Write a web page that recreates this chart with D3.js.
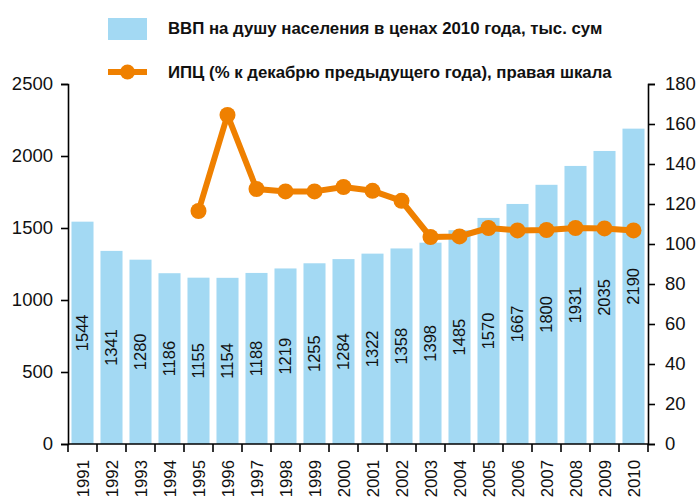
<!DOCTYPE html>
<html>
<head>
<meta charset="utf-8">
<script src="https://cdn.jsdelivr.net/npm/d3@7"></script>
<style>
  html, body { margin: 0; padding: 0; background: #fff; }
  svg { display: block; font-family: "Liberation Sans", Arial, sans-serif; }
</style>
</head>
<body>
<svg id="chart" width="698" height="498"></svg>
<script>
const years = ["1991","1992","1993","1994","1995","1996","1997","1998","1999","2000",
               "2001","2002","2003","2004","2005","2006","2007","2008","2009","2010"];
const gdpPerCapita = [1544,1341,1280,1186,1155,1154,1188,1219,1255,1284,
                      1322,1358,1398,1485,1570,1667,1800,1931,2035,2190];
const cpiYears = ["1995","1996","1997","1998","1999","2000","2001","2002","2003",
                  "2004","2005","2006","2007","2008","2009","2010"];
const cpiValues = [116.5,164.5,127.5,126.3,126.3,128.5,126.6,121.6,103.5,
                   103.8,108.0,106.8,107.0,108.0,107.8,106.8];
const leftTicks = [0,500,1000,1500,2000,2500];
const rightTicks = [0,20,40,60,80,100,120,140,160,180];
const legendLabels = ["ВВП на душу населения в ценах 2010 года, тыс. сум",
                      "ИПЦ (% к декабрю предыдущего года), правая шкала"];

const barColor = "#a3d9f3";
const lineColor = "#ef8000";

const svg = d3.select("#chart");
const plotLeft = 68, plotRight = 648, plotTop = 84, plotBottom = 444;

const x = d3.scaleBand().domain(years).range([plotLeft, plotRight]).paddingInner(0.24).paddingOuter(0.12);
const yL = d3.scaleLinear().domain([0, 2500]).range([plotBottom, plotTop]);
const yR = d3.scaleLinear().domain([0, 180]).range([plotBottom, plotTop]);

// bars
svg.append("g").selectAll("rect").data(years).join("rect")
  .attr("x", d => x(d))
  .attr("width", x.bandwidth())
  .attr("y", (d, i) => yL(gdpPerCapita[i]))
  .attr("height", (d, i) => yL(0) - yL(gdpPerCapita[i]))
  .attr("fill", barColor);

// bar labels
svg.append("g").selectAll("text").data(years).join("text")
  .attr("transform", (d, i) => `translate(${x(d) + x.bandwidth() / 2},${(yL(gdpPerCapita[i]) + yL(0)) / 2}) rotate(-90)`)
  .attr("text-anchor", "middle")
  .attr("dy", "0.36em")
  .attr("font-size", 16.5)
  .attr("fill", "#111")
  .text((d, i) => gdpPerCapita[i]);

// left axis
const axL = svg.append("g").attr("transform", `translate(${plotLeft},0)`)
  .call(d3.axisLeft(yL).tickValues(leftTicks).tickFormat(d3.format("d"))
    .tickSize(7).tickSizeOuter(7).tickPadding(8));
// right axis
const axR = svg.append("g").attr("transform", `translate(${plotRight},0)`)
  .call(d3.axisRight(yR).tickValues(rightTicks).tickFormat(d3.format("d"))
    .tickSize(7).tickSizeOuter(7).tickPadding(10));
// bottom axis with ticks at band boundaries
const axB = svg.append("g").attr("transform", `translate(0,${plotBottom})`);
axB.append("line").attr("x1", plotLeft).attr("x2", plotRight).attr("stroke", "#000").attr("stroke-width", 1.6);
const boundaries = years.map(d => x(d) - x.step() * x.paddingInner() / 2).concat([plotRight]);
axB.selectAll("line.tk").data(boundaries).join("line").attr("class", "tk")
  .attr("x1", d => d).attr("x2", d => d).attr("y1", 0).attr("y2", 8)
  .attr("stroke", "#000").attr("stroke-width", 1.6);
axB.selectAll("text").data(years).join("text")
  .attr("transform", d => `translate(${x(d) + x.bandwidth() / 2},16) rotate(-90)`)
  .attr("text-anchor", "end")
  .attr("dy", "0.36em")
  .attr("font-size", 16.8)
  .attr("fill", "#111")
  .text(d => d);

[axL, axR].forEach(g => {
  g.selectAll("path.domain").attr("stroke", "#000").attr("stroke-width", 1.6);
  g.selectAll(".tick line").attr("stroke", "#000").attr("stroke-width", 1.6);
  g.selectAll(".tick text").attr("font-size", 18.5).attr("fill", "#111")
    .attr("font-family", "Liberation Sans, Arial, sans-serif");
});

// CPI line
const line = d3.line().x(d => x(d[0]) + x.bandwidth() / 2).y(d => yR(d[1]));
const cpiData = cpiYears.map((d, i) => [d, cpiValues[i]]);
svg.append("path").datum(cpiData)
  .attr("d", line).attr("fill", "none").attr("stroke", lineColor)
  .attr("stroke-width", 6).attr("stroke-linejoin", "round");
svg.append("g").selectAll("circle").data(cpiData).join("circle")
  .attr("cx", d => x(d[0]) + x.bandwidth() / 2)
  .attr("cy", d => yR(d[1]))
  .attr("r", 8)
  .attr("fill", lineColor);

// legend
const lg = svg.append("g");
lg.append("rect").attr("x", 108).attr("y", 18).attr("width", 39).attr("height", 22).attr("fill", barColor);
lg.append("line").attr("x1", 108).attr("x2", 147).attr("y1", 72).attr("y2", 72)
  .attr("stroke", lineColor).attr("stroke-width", 6);
lg.append("circle").attr("cx", 127.5).attr("cy", 72).attr("r", 7.5).attr("fill", lineColor);
lg.selectAll("text").data(legendLabels).join("text")
  .attr("x", 168)
  .attr("y", (d, i) => i === 0 ? 34 : 78)
  .attr("font-size", 16.8)
  .attr("font-weight", "bold")
  .attr("fill", "#111")
  .text(d => d);
</script>
</body>
</html>
